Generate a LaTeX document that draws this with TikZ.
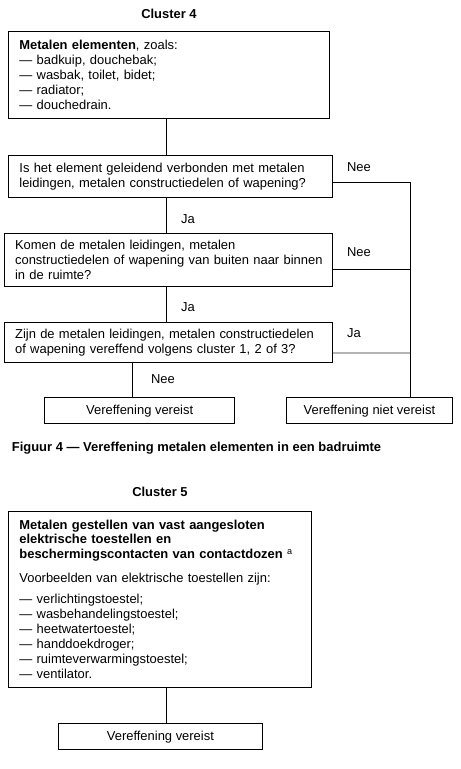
\documentclass[tikz,border=0pt]{standalone}
\usepackage{fontspec}
\setmainfont{Liberation Sans}
\definecolor{lgray}{RGB}{180,180,180}
\hbadness=10000 \hfuzz=50pt
\tikzset{
  txt/.style={font=\fontsize{13}{15}\selectfont, inner sep=0pt},
  box/.style={txt, draw, line width=0.8bp, inner xsep=10.7bp, inner ysep=0pt, align=left, anchor=north west},
  cbox/.style={txt, draw, line width=0.8bp, inner sep=0pt, align=center, anchor=north west},
  conn/.style={line width=0.8bp},
  grayconn/.style={line width=2bp, draw=lgray},
  lbl/.style={txt, anchor=center},
  ttl/.style={txt, font=\fontsize{13}{15}\selectfont\bfseries, anchor=center}
}
\begin{document}
\begin{tikzpicture}[x=1bp,y=-1bp]
\useasboundingbox[fill=white] (0,0) rectangle (461,769);

% Cluster 4
\node[ttl] (t4) at (169,13.5) {Cluster 4};
\node[box, text width=299bp, minimum height=87.6bp] (b1) at (8.3,30.7)
  {\textbf{Metalen elementen}, zoals:\\
   — badkuip, douchebak;\\
   — wasbak, toilet, bidet;\\
   — radiator;\\
   — douchedrain.};
\node[box, text width=302bp, minimum height=42.3bp] (b2) at (8.3,155)
  {\mbox{Is het element geleidend verbonden met metalen}\\
   \mbox{leidingen, metalen constructiedelen of wapening?}};
\node[box, text width=306.3bp, minimum height=53.3bp] (b3) at (4,232.7)
  {\mbox{Komen de metalen leidingen, metalen}\\
   \mbox{constructiedelen of wapening van buiten naar binnen}\\
   \mbox{in de ruimte?}};
\node[box, text width=306.3bp, minimum height=40.6bp] (b4) at (4,321.7)
  {\mbox{Zijn de metalen leidingen, metalen constructiedelen}\\
   \mbox{of wapening vereffend volgens cluster 1, 2 of 3?}};
\node[cbox, minimum width=190bp, minimum height=26bp] (b5) at (44.3,397.3) {Vereffening vereist};
\node[cbox, minimum width=166.6bp, minimum height=26bp] (b6) at (285.7,397.3) {Vereffening niet vereist};

\node[lbl] (nee1) at (359,167) {Nee};
\node[lbl] (ja1) at (188,219) {Ja};
\node[lbl] (nee2) at (359,252) {Nee};
\node[lbl] (ja2) at (188,307) {Ja};
\node[lbl] (ja3) at (354,333) {Ja};
\node[lbl] (nee3) at (163,379) {Nee};

\coordinate (sp) at (166.3,0);
\coordinate (lp) at (132.3,0);
\coordinate (n1) at (410,182.3);
\coordinate (n2) at (410,269.3);
\coordinate (n3) at (410,353.3);

\draw[conn] (b1.south -| sp) -- (b2.north -| sp);
\draw[conn] (b2.south -| sp) -- (b3.north -| sp);
\draw[conn] (b3.south -| sp) -- (b4.north -| sp);
\draw[conn] (b4.south -| lp) -- (b5.north -| lp);
\draw[grayconn] (b4.east |- n3) -- (n3);
\draw[conn] (b2.east |- n1) -- (n1) -- (b6.north -| n1);
\draw[conn] (b3.east |- n2) -- (n2);

\node[ttl, anchor=west] (cap) at (11.7,448) {Figuur 4 — Vereffening metalen elementen in een badruimte};

% Cluster 5
\node[ttl] (t5) at (160,491.5) {Cluster 5};
\node[box, text width=281bp, minimum height=176bp] (b7) at (8.3,510.7)
  {\textbf{Metalen gestellen van vast aangesloten}\\
   \textbf{elektrische toestellen en}\\
   \mbox{\textbf{beschermingscontacten van contactdozen} \textsuperscript{a}}\\[8.4pt]
   Voorbeelden van elektrische toestellen zijn:\\[6.6pt]
   — verlichtingstoestel;\\
   — wasbehandelingstoestel;\\
   — heetwatertoestel;\\
   — handdoekdroger;\\
   — ruimteverwarmingstoestel;\\
   — ventilator.};
\node[cbox, minimum width=203.4bp, minimum height=26bp] (b8) at (58.3,723.3) {Vereffening vereist};
\draw[conn] (b7.south -| sp) -- (b8.north -| sp);
\end{tikzpicture}
\end{document}
